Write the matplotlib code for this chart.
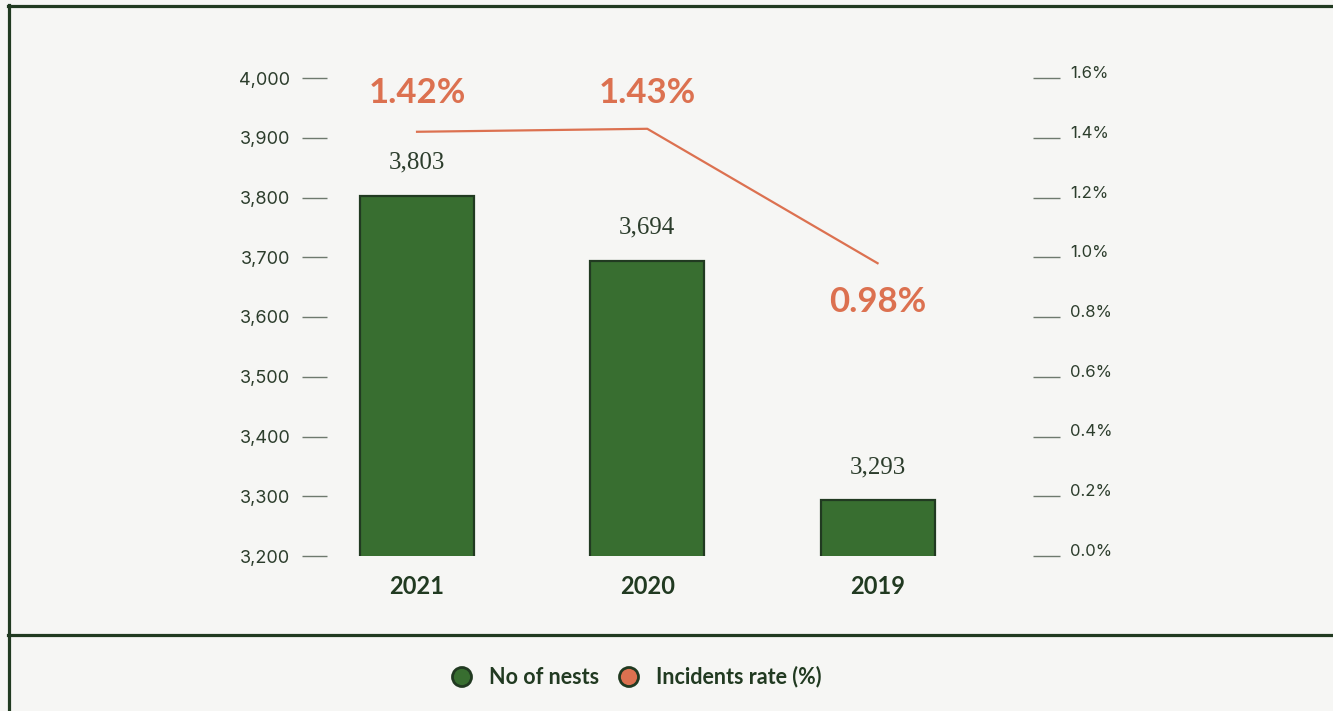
import matplotlib
matplotlib.use("Agg")
import matplotlib.pyplot as plt
from matplotlib.lines import Line2D
from matplotlib.patches import Circle

# Data
years = ["2021", "2020", "2019"]
nests = [3803, 3694, 3293]
incident_rate = [1.42, 1.43, 0.98]
left_ticks = [3200, 3300, 3400, 3500, 3600, 3700, 3800, 3900, 4000]
right_ticks = [0.0, 0.2, 0.4, 0.6, 0.8, 1.0, 1.2, 1.4, 1.6]

BG = "#F6F6F4"
DARK = "#213A21"
BAR = "#386E30"
ORANGE = "#DC7150"
TEXT = "#2C3D2C"
TICK = "#6E7A6E"

W, H = 1333, 711
fig = plt.figure(figsize=(W / 100, H / 100), dpi=100, facecolor=BG)

def fx(px):
    return px / W

def fy(py):
    return 1 - py / H

ax_left, ax_right, ax_top, ax_bottom = 327, 1033, 78, 556
ax = fig.add_axes([fx(ax_left), fy(ax_bottom), fx(ax_right - ax_left),
                   (ax_bottom - ax_top) / H])
ax.set_facecolor("none")
for s in ax.spines.values():
    s.set_visible(False)

x = list(range(len(years)))
ax.bar(x, nests, width=0.495, bottom=0, color=BAR, edgecolor=DARK,
       linewidth=1.6, zorder=2)
ax.set_ylim(3200, 4000)
ax.set_xlim(-0.391, 2.675)
ax.set_yticks(left_ticks)
ax.set_yticklabels([f"{v:,}" for v in left_ticks])
ax.tick_params(axis="y", direction="out", length=18, width=1, color=TICK,
               pad=8.5, labelsize=13, labelcolor=TEXT)
for lab in ax.get_yticklabels():
    lab.set_fontfamily("Inter")
ax.set_xticks([])

# value labels above the bars
for xi, v in zip(x, nests):
    ax.annotate(f"{v:,}", (xi, v), xytext=(0, 24), textcoords="offset points",
                ha="center", va="center", fontsize=18, color=TEXT,
                family="Liberation Serif", zorder=3)

# year labels under the bars
for xi, yr in zip(x, years):
    ax.annotate(yr, (xi, 3200), xytext=(0, -22), textcoords="offset points",
                ha="center", va="center", fontsize=17, fontweight="bold",
                color=DARK, family="Lato", annotation_clip=False)

# incident rate on the secondary axis
ax2 = ax.twinx()
for s in ax2.spines.values():
    s.set_visible(False)
ax2.set_ylim(0, 1.6)
ax2.set_yticks(right_ticks)
ax2.set_yticklabels([f"{v:.1f}%" for v in right_ticks])
ax2.tick_params(axis="y", direction="out", length=19.5, width=1, color=TICK,
                pad=7, labelsize=12, labelcolor=TEXT)
for lab in ax2.get_yticklabels():
    lab.set_fontfamily("Inter")
    lab.set_verticalalignment("baseline")
ax2.plot(x, incident_rate, color=ORANGE, linewidth=1.6, zorder=4)

label_offsets = [(0, 28), (0, 26), (0, -28)]
for xi, r, off in zip(x, incident_rate, label_offsets):
    ax2.annotate(f"{r:.2f}%", (xi, r), xytext=off, textcoords="offset points",
                 ha="center", va="center", fontsize=25, fontweight="bold",
                 color=ORANGE, family="Lato")

# frame lines
lw = 2.3
fig.add_artist(Line2D([fx(9), fx(9)], [fy(5), 0], color=DARK, lw=lw,
                      transform=fig.transFigure))
fig.add_artist(Line2D([fx(8), 1], [fy(6), fy(6)], color=DARK, lw=lw,
                      transform=fig.transFigure))
fig.add_artist(Line2D([fx(8), 1], [fy(635), fy(635)], color=DARK, lw=lw,
                      transform=fig.transFigure))

# legend
legend_items = [("No of nests", BAR, 462), ("Incidents rate (%)", ORANGE, 629)]
for name, col, cx in legend_items:
    fig.add_artist(Circle((cx, H - 677), 9.5, facecolor=col, edgecolor=DARK,
                          linewidth=2, transform=None))
    fig.text(fx(cx + 27), fy(677), name, ha="left", va="center",
             fontsize=15.5, fontweight="bold", color=DARK, family="Lato")

fig.savefig("out.png", dpi=100, facecolor=BG)
